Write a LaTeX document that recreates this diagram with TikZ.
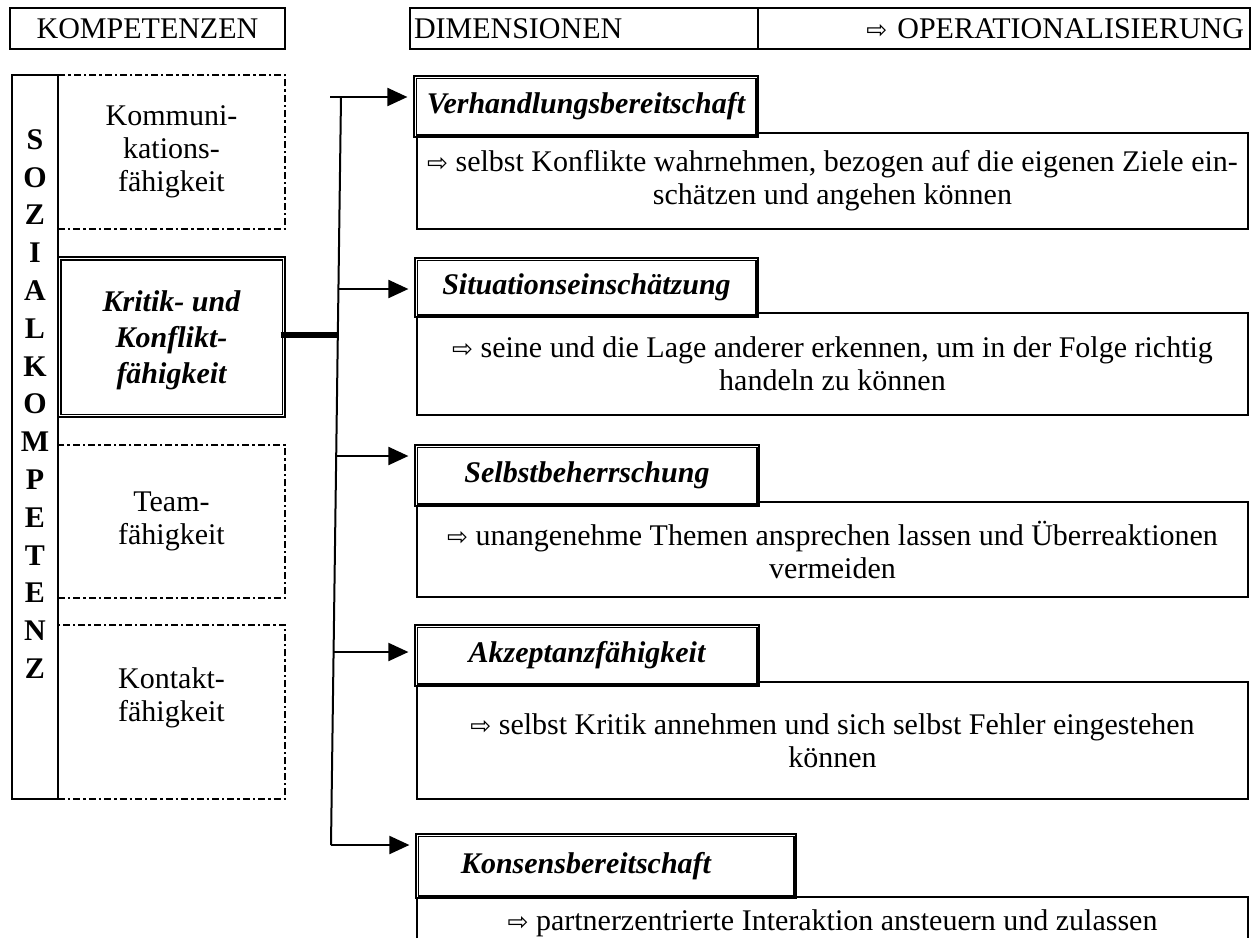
\documentclass[tikz,border=0pt]{standalone}
\usepackage{fontspec}
\setmainfont{Liberation Serif}
\newfontfamily\arrowfont{DejaVu Sans}
\usetikzlibrary{arrows.meta}
\newcommand\hollowarr{{\arrowfont\fontsize{12.5}{12.5}\selectfont ⇨}}
\tikzset{
  txt/.style={font=\fontsize{15}{16.5}\selectfont},
  bitxt/.style={font=\fontsize{15}{18}\selectfont\bfseries\itshape},
  hbox/.style={draw, line width=1.2pt, inner sep=2pt, txt},
  ddbox/.style={draw, line width=1pt, dash pattern=on 3.5pt off 1.5pt on 1.2pt off 1.5pt, inner sep=0pt},
  outbox/.style={draw, line width=1.2pt, inner sep=0pt},
  dimbox/.style={draw, line width=0.6pt, fill=white, inner sep=0pt, bitxt, align=center},
  opbox/.style={draw, line width=0.9pt, inner sep=0pt, txt, align=center},
  arr/.style={line width=1pt, -{Triangle[length=10pt,width=9pt]}, shorten >=3pt},
}
\begin{document}
\begin{tikzpicture}[x=0.5pt, y=-0.5pt]
\useasboundingbox (0,0) rectangle (1253,938);

% header
\node[hbox, minimum width=137.5pt, minimum height=20.5pt] (hk) at (147.5,28.5) {KOMPETENZEN};
\node[hbox, minimum width=174pt, minimum height=20.5pt, text width=170pt, align=left] (hd) at (584,28.5) {DIMENSIONEN};
\node[hbox, minimum width=246pt, minimum height=20.5pt, text width=240pt, align=right] (ho) at (1004,28.5) {\hollowarr\ OPERATIONALISIERUNG};

% left column
\node[ddbox, minimum width=113.5pt, minimum height=77pt, txt, align=center] (komm) at (171.5,152) {Kommuni-\\kations-\\fähigkeit};
\node[draw, line width=0.6pt, inner sep=0pt, minimum width=113.5pt, minimum height=80pt] (krit) at (171.5,337) {};
\draw[line width=0.6pt] ([shift={(3.5,3.5)}]krit.north west) rectangle ([shift={(-3.5,-3.5)}]krit.south east);
\node[bitxt, align=center] (krittxt) at (171.5,340) {Kritik- und\\Konflikt-\\fähigkeit};
\node[ddbox, minimum width=113.5pt, minimum height=76.5pt, txt, align=center] (team) at (171.5,521.5) {Team-\\fähigkeit};
\node[ddbox, minimum width=113.5pt, minimum height=87pt] (kont) at (171.5,712) {};
\node[txt, align=center] (konttxt) at (171.5,698) {Kontakt-\\fähigkeit};
\node[outbox, minimum width=23pt, minimum height=362pt] (soz) at (35,437) {};
\node[font=\fontsize{15}{18.9}\selectfont\bfseries, align=center, inner sep=0pt] (soztxt) at (35,404)
  {S\\O\\Z\\I\\A\\L\\K\\O\\M\\P\\E\\T\\E\\N\\Z};

% operationalisation boxes
\node[opbox, minimum width=415.5pt, minimum height=48pt] (o1) at (832.5,181)
  {\hollowarr\ selbst Konflikte wahrnehmen, bezogen auf die eigenen Ziele ein-\\schätzen und angehen können};
\node[opbox, minimum width=415.5pt, minimum height=51pt] (o2) at (832.5,364)
  {\hollowarr\ seine und die Lage anderer erkennen, um in der Folge richtig\\handeln zu können};
\node[opbox, minimum width=415.5pt, minimum height=47.5pt] (o3) at (832.5,549.5)
  {\hollowarr\ unangenehme Themen ansprechen lassen und Überreaktionen\\vermeiden};
\node[opbox, minimum width=415.5pt, minimum height=58.5pt] (o4) at (832.5,740.5)
  {\hollowarr\ selbst Kritik annehmen und sich selbst Fehler eingestehen\\können};
\draw[line width=0.9pt] (417,938) -- (417,897) -- (1248,897) -- (1248,938);
\node[txt, inner sep=0pt] (o5) at (832.5,923) {\hollowarr\ partnerzentrierte Interaktion ansteuern und zulassen};

% dimension boxes
\node[dimbox, minimum width=172pt, minimum height=30.5pt] (d1) at (586,106.5) {Verhandlungsbereitschaft};
\node[dimbox, minimum width=171.5pt, minimum height=29.5pt] (d2) at (586.5,287.5) {Situationseinschätzung};
\node[dimbox, minimum width=172pt, minimum height=30.5pt] (d3) at (587,475.5) {Selbstbeherrschung};
\node[dimbox, minimum width=172pt, minimum height=30.5pt] (d4) at (587,655.5) {Akzeptanzfähigkeit};
\node[dimbox, minimum width=190pt, minimum height=32pt] (d5) at (606,866) {Konsensbereitschaft\hspace*{20pt}};
\foreach \d in {d1,d2,d3,d4,d5}{
  \draw[line width=0.9pt] ([shift={(3,3)}]\d.north west) rectangle ([shift={(-3,-3)}]\d.south east);
}

% connectors
\coordinate (t1) at (330,97);
\coordinate (v1) at (341,97);
\coordinate (j2) at (338.4,289);
\coordinate (kj) at (337.8,335);
\coordinate (j3) at (336.2,456);
\coordinate (j4) at (333.6,652);
\coordinate (v5) at (331,845);
\draw[line width=1pt] (v1) -- (v5);
\draw[arr] (t1) -- (d1.west |- t1);
\draw[arr] (j2) -- (d2.west |- j2);
\draw[arr] (j3) -- (d3.west |- j3);
\draw[arr] (j4) -- (d4.west |- j4);
\draw[arr] (v5) -- (d5.west |- v5);
\draw[line width=3pt] ([xshift=-2.5pt]krit.east |- kj) -- (kj);
\end{tikzpicture}
\end{document}
